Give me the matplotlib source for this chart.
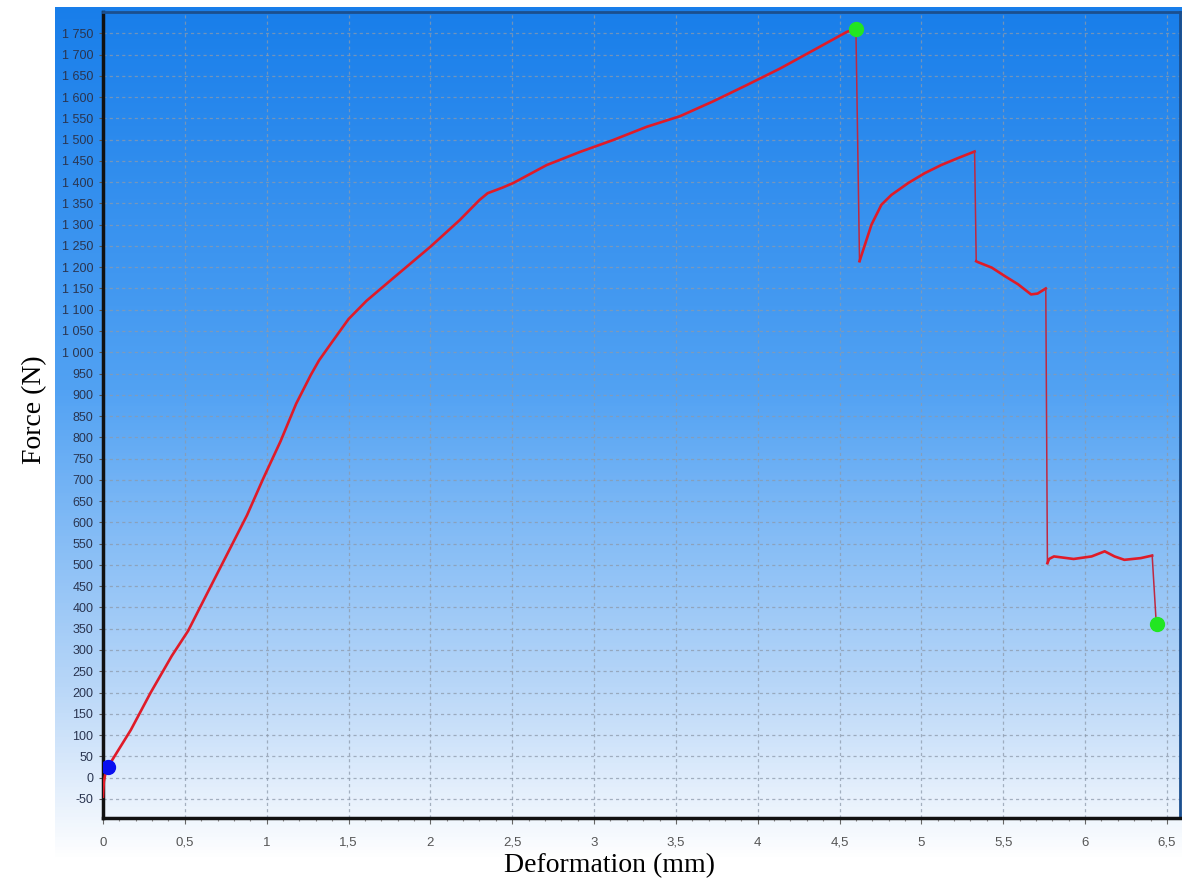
import numpy as np
import matplotlib
matplotlib.use("Agg")
import matplotlib.pyplot as plt
from matplotlib.colors import LinearSegmentedColormap
from matplotlib.ticker import FuncFormatter, MultipleLocator

# force-deformation curve (mm, N)
deform = [0.0, 0.005, 0.015, 0.03, 0.17, 0.29, 0.42, 0.52, 0.66, 0.79, 0.88, 0.98,
          1.085, 1.18, 1.27, 1.32, 1.39, 1.50, 1.61, 1.775, 2.0, 2.18, 2.30, 2.35,
          2.44, 2.507, 2.71, 2.914, 3.117, 3.321, 3.525, 3.728, 3.932, 4.136, 4.34,
          4.543, 4.60,
          4.622, 4.695, 4.756, 4.817, 4.92, 5.02, 5.12, 5.22, 5.325,
          5.335, 5.345, 5.43, 5.51, 5.59, 5.67, 5.71, 5.76,
          5.77, 5.78, 5.81, 5.93, 6.04, 6.12, 6.18, 6.24, 6.34, 6.41,
          6.435]
force = [-45, -10, 10, 25, 112, 199, 286, 345, 451, 549, 617, 704,
         791, 879, 947, 981, 1019, 1078, 1121, 1175, 1248, 1311, 1358, 1374,
         1387, 1398, 1440, 1471, 1499, 1530, 1555, 1590, 1628, 1667, 1710,
         1753, 1761,
         1214, 1300, 1347, 1370, 1398, 1421, 1440, 1456, 1472,
         1214, 1212, 1199, 1179, 1160, 1136, 1138, 1150,
         504, 514, 520, 514, 520, 532, 520, 512, 516, 522,
         362]

start_pt = (0.03, 25)
peak_pt = (4.60, 1761)
end_pt = (6.44, 362)

x_ticks = [0, 0.5, 1, 1.5, 2, 2.5, 3, 3.5, 4, 4.5, 5, 5.5, 6, 6.5]
y_ticks = list(range(-50, 1751, 50))

W, H = 1182, 888
fig = plt.figure(figsize=(W / 100, H / 100), dpi=100)

# gradient panel behind the chart
bg = fig.add_axes([55 / W, (H - 860) / H, 1 - 55 / W, (860 - 7) / H], zorder=0)
grad = LinearSegmentedColormap.from_list("panel", [
    (0.0, (24 / 255, 126 / 255, 234 / 255)),
    (0.45, (82 / 255, 162 / 255, 243 / 255)),
    (0.80, (185 / 255, 215 / 255, 248 / 255)),
    (0.92, (228 / 255, 239 / 255, 252 / 255)),
    (1.0, (1, 1, 1)),
])
bg.imshow(np.linspace(0, 1, 256).reshape(-1, 1), aspect="auto", cmap=grad,
          extent=[0, 1, 0, 1])
bg.axis("off")

ax = fig.add_axes([103 / W, (H - 818) / H, (1180 - 103) / W, (818 - 12) / H], zorder=1)
ax.set_facecolor("none")

# steady parts thick, sudden load drops thin (as the machine software draws them)
x = np.asarray(deform)
y = np.asarray(force)
drop = np.abs(np.diff(y)) > 150
start = 0
for i in np.flatnonzero(drop):
    ax.plot(x[start:i + 1], y[start:i + 1], color="#e01b28", lw=1.9, zorder=3)
    ax.plot(x[i:i + 2], y[i:i + 2], color="#c02840", lw=1.1, zorder=3)
    start = i + 1
ax.plot(x[start:], y[start:], color="#e01b28", lw=1.9, zorder=3)

ax.plot(*start_pt, "o", color="#0a10f0", ms=10, zorder=4)
ax.plot(*peak_pt, "o", color="#22e622", ms=10, zorder=4)
ax.plot(*end_pt, "o", color="#22e622", ms=10, zorder=4)

ax.set_xlim(0, 6.58)
ax.set_ylim(-95, 1800)
ax.set_xticks(x_ticks)
ax.set_yticks(y_ticks)
ax.xaxis.set_minor_locator(MultipleLocator(0.1))
ax.xaxis.set_major_formatter(FuncFormatter(lambda v, p: f"{v:g}".replace(".", ",")))
ax.yaxis.set_major_formatter(FuncFormatter(lambda v, p: f"{v:,.0f}".replace(",", " ")))

ax.grid(True, which="major", color="#8d9aab", lw=0.9, ls=(0, (2.5, 2.5)), alpha=0.75)
ax.tick_params(axis="y", length=3, width=0.8, color="#555555", pad=4,
               labelsize=9, labelcolor="#2a3550")
ax.tick_params(axis="x", which="major", length=4, width=0.8, color="#666666", pad=16,
               labelsize=9.5, labelcolor="#555555")
ax.tick_params(axis="x", which="minor", length=2, width=0.8, color="#888888")
for lab in ax.get_yticklabels():
    lab.set_family("Liberation Sans")
for lab in ax.get_xticklabels():
    lab.set_family("Liberation Sans")
    lab.set_verticalalignment("baseline")

for side in ("left", "bottom"):
    ax.spines[side].set_color("#111111")
    ax.spines[side].set_linewidth(2.5)
for side in ("top", "right"):
    ax.spines[side].set_color("#1b4f8f")
    ax.spines[side].set_linewidth(2)

fig.text(35 / W, 1 - 410 / H, "Force (N)", rotation=90, ha="center", va="center",
         family="Liberation Serif", fontsize=20)
fig.text(610 / W, 1 - 866 / H, "Deformation (mm)", ha="center", va="center",
         family="Liberation Serif", fontsize=20)

fig.savefig("out.png", dpi=100)
